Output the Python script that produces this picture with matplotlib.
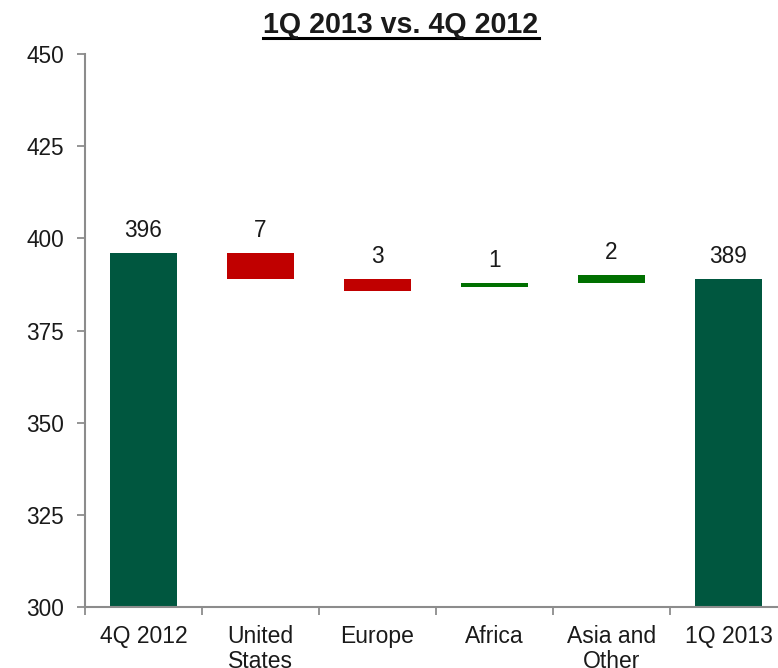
import matplotlib
matplotlib.use("Agg")
import matplotlib.pyplot as plt
from matplotlib.lines import Line2D

categories = ["4Q 2012", "United\nStates", "Europe", "Africa", "Asia and\nOther", "1Q 2013"]
bar_low = [300, 389.0, 385.8, 386.8, 387.9, 300]
bar_high = [396.0, 396.0, 389.0, 388.0, 390.1, 389.0]
value_labels = ["396", "7", "3", "1", "2", "389"]
bar_colors = ["#00573F", "#C00000", "#C00000", "#007000", "#007000", "#00573F"]
yticks = [300, 325, 350, 375, 400, 425, 450]

plt.rcParams['font.family'] = ['Liberation Sans', 'DejaVu Sans']

fig = plt.figure(figsize=(7.78, 6.68), dpi=100)
ax = fig.add_axes([85/778, 1-606.7/668, (787-85)/778, (606.7-54.3)/668])

x = list(range(len(categories)))
heights = [h - l for h, l in zip(bar_high, bar_low)]
ax.bar(x, heights, bottom=bar_low, width=0.58, color=bar_colors, zorder=2)

for xi, top, lab in zip(x, bar_high, value_labels):
    ax.annotate(lab, (xi, top), xytext=(0, 11.5), textcoords="offset points",
                ha="center", va="baseline", fontsize=16.3, color="#1a1a1a")

ax.set_xlim(-0.5, len(categories) - 0.5)
ax.set_ylim(300, 450)
ax.set_yticks(yticks)
ax.set_yticklabels([str(v) for v in yticks], fontsize=16.3, color="#1a1a1a")
ax.set_xticks(x)
ax.set_xticklabels(categories, fontsize=16.5, va="top", linespacing=1.08, color="#1a1a1a")
ax.set_xticks([i - 0.5 for i in range(len(categories) + 1)], minor=True)
ax.tick_params(axis="x", which="major", length=0, pad=13.5)
ax.tick_params(axis="x", which="minor", length=6, width=1.3, color="#8c8c8c", direction="out")
ax.tick_params(axis="y", length=6, width=1.3, color="#8c8c8c", direction="out", pad=9)

for s in ["top", "right"]:
    ax.spines[s].set_visible(False)
for s in ["left", "bottom"]:
    ax.spines[s].set_color("#8c8c8c")
    ax.spines[s].set_linewidth(1.5)

t = fig.text(401/778, 1-33/668, "1Q 2013 vs. 4Q 2012", ha="center", va="baseline",
             fontsize=20.6, fontweight="bold", color="#1a1a1a")
uy = 1 - 37.5/668
fig.canvas.draw()
bb = t.get_window_extent().transformed(fig.transFigure.inverted())
fig.add_artist(Line2D([bb.x0, bb.x1], [uy, uy], transform=fig.transFigure,
                      color="black", linewidth=2.2))

fig.savefig("out.png", dpi=100)
